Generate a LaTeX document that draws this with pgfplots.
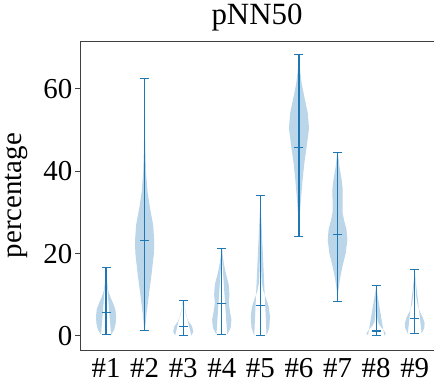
\documentclass[border=0pt]{standalone}
\usepackage{pgfplots}
\pgfplotsset{compat=1.18}
\usepackage{pgfplotstable}
\usepgfplotslibrary{fillbetween}
\usetikzlibrary{calc}
\usepackage{fontspec}
\setmainfont{Liberation Serif}
\definecolor{mplblue}{HTML}{1F77B4}
\newcommand{\tickfont}{\fontsize{29}{34}\selectfont}
\newcommand{\titlefont}{\fontsize{31}{36}\selectfont}

\pgfplotstableread{
y w
0.3 0.13
1.5 0.21
3 0.25
4.7 0.26
6.5 0.24
8 0.18
9.5 0.11
11 0.055
13 0.03
15 0.02
16.7 0.01
}\vA
\pgfplotstableread{
y w
1.4 0.01
5 0.045
10 0.11
15 0.18
20 0.24
23 0.25
27 0.22
31 0.14
35 0.075
40 0.035
45 0.02
50 0.012
56 0.008
62.4 0.005
}\vB
\pgfplotstableread{
y w
0.1 0.21
1 0.26
2.3 0.23
3.5 0.14
5 0.075
6.5 0.04
8 0.02
8.7 0.01
}\vC
\pgfplotstableread{
y w
0.3 0.14
2 0.23
4 0.25
6 0.21
8 0.18
10 0.20
12.5 0.18
15 0.11
17.5 0.055
19.5 0.025
21.2 0.01
}\vD
\pgfplotstableread{
y w
0.1 0.16
2 0.23
4.7 0.25
7 0.22
9 0.15
11 0.075
13 0.035
16 0.02
20 0.012
25 0.008
30 0.005
34.1 0.004
}\vE
\pgfplotstableread{
y w
24.1 0.005
29 0.02
33 0.05
38 0.095
42 0.14
46 0.20
50.4 0.26
54 0.23
58 0.14
61 0.075
64 0.035
66.5 0.015
68.3 0.005
}\vF
\pgfplotstableread{
y w
8.3 0.005
11 0.02
14 0.065
17 0.13
20 0.21
23.3 0.255
26 0.23
28 0.17
30 0.13
33 0.13
35.5 0.135
38 0.105
41 0.05
44.5 0.01
}\vG
\pgfplotstableread{
y w
0.1 0.21
0.6 0.25
1.5 0.19
2.5 0.095
3.5 0.04
5 0.02
7 0.012
9.5 0.008
12.2 0.005
}\vH
\pgfplotstableread{
y w
0.6 0.18
2 0.25
3.1 0.255
4.5 0.21
6 0.13
7.5 0.075
9.5 0.04
12 0.02
14 0.012
16.1 0.006
}\vI
\pgfplotstableread{
pos min mean max
1 0.3 5.6 16.7
2 1.4 23.2 62.4
3 0.1 2.3 8.7
4 0.3 7.9 21.2
5 0.1 7.4 34.1
6 24.1 45.8 68.3
7 8.3 24.7 44.5
8 0.1 1.2 12.2
9 0.6 4.3 16.1
}\stats

\newcommand{\violin}[2]{%
  \addplot[draw=none, name path=R#1, forget plot] table[x expr=#1+\thisrow{w}, y=y]{#2};
  \addplot[draw=none, name path=L#1, forget plot] table[x expr=#1-\thisrow{w}, y=y]{#2};
  \addplot[fill=mplblue, fill opacity=0.3, draw=none, forget plot] fill between[of=R#1 and L#1];
}

\begin{document}
\begin{tikzpicture}[font=\tickfont]
\begin{axis}[
  scale only axis, width=354bp, height=309bp,
  xmin=0.325, xmax=9.5, ymin=-3.41, ymax=71.6,
  axis y line*=left, axis x line*=box,
  axis line style={black!75, line width=0.9bp},
  xtick={1,2,3,4,5,6,7,8,9},
  xticklabels={\#1,\#2,\#3,\#4,\#5,\#6,\#7,\#8,\#9},
  ytick={0,20,40,60},
  tick align=outside,
  major tick length=4.5bp,
  xtick style={draw=none},
  ytick style={black!75, line width=0.9bp},
  /pgf/number format/assume math mode=true,
  tick label style={font=\tickfont},
  label style={font=\tickfont},
  yticklabel style={inner sep=0pt, xshift=-3bp},
  xticklabel style={anchor=base, inner sep=0pt, yshift=-23bp},
  title={pNN50},
  title style={font=\titlefont, at={(0.5,1)}, anchor=base, yshift=11bp},
  ylabel={percentage},
  ylabel style={at={(axis description cs:-0.18,0.5)}, anchor=center},
  clip=false,
]
\violin{1}{\vA}
\violin{2}{\vB}
\violin{3}{\vC}
\violin{4}{\vD}
\violin{5}{\vE}
\violin{6}{\vF}
\violin{7}{\vG}
\violin{8}{\vH}
\violin{9}{\vI}
\addplot[draw=none, mark=none, forget plot,
  error bars/.cd, y dir=both, y explicit, error mark=none,
  error bar style={line width=1.1bp, mplblue}]
  table[x=pos, y=mean, y error plus expr=\thisrow{max}-\thisrow{mean}, y error minus expr=\thisrow{mean}-\thisrow{min}] {\stats};
\addplot[only marks, mark=-, mark size=4.5bp, mplblue, mark options={line width=1.1bp}] table[x=pos, y=min] {\stats};
\addplot[only marks, mark=-, mark size=4.5bp, mplblue, mark options={line width=1.1bp}] table[x=pos, y=max] {\stats};
\addplot[only marks, mark=-, mark size=4.5bp, mplblue, mark options={line width=1.1bp}] table[x=pos, y=mean] {\stats};
\end{axis}
\pgfresetboundingbox
\path[use as bounding box] ($(current axis.south west)+(-80bp,-33bp)$) rectangle ($(current axis.north east)+(0bp,41bp)$);
\end{tikzpicture}
\end{document}
